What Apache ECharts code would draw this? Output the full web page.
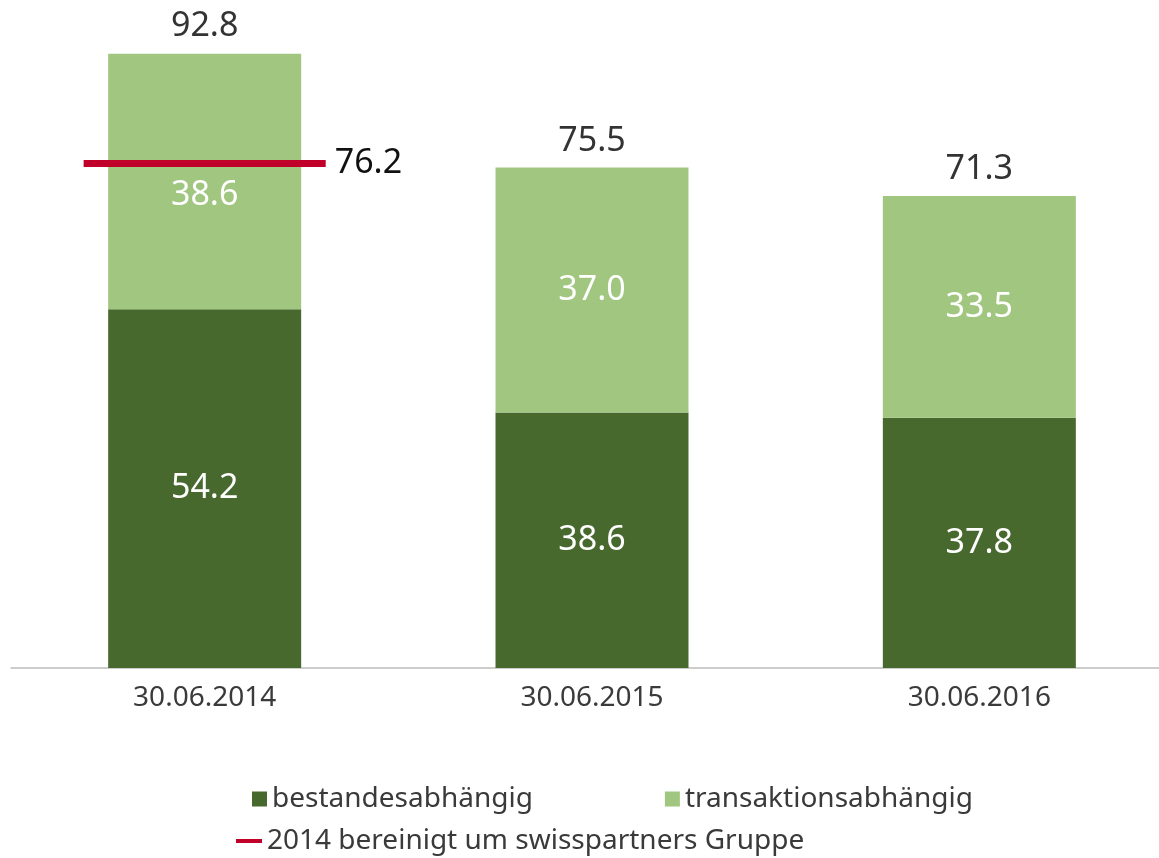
<!DOCTYPE html>
<html>
<head>
<meta charset="utf-8">
<script src="https://cdn.jsdelivr.net/npm/echarts@6/dist/echarts.min.js"></script>
<style>
  html, body { margin: 0; padding: 0; background: #fff; }
  #chart { width: 1159px; height: 858px; }
</style>
</head>
<body>
<div id="chart"></div>
<script>
// Stichtage
const categories = ['30.06.2014', '30.06.2015', '30.06.2016'];
// Segmentwerte
const bestandValues = [54.2, 38.6, 37.8];
const transaktionValues = [38.6, 37.0, 33.5];
// Summen (wie beschriftet)
const totalValues = [92.8, 75.5, 71.3];
// 2014 bereinigt um swisspartners Gruppe
const adjustedValues = [['30.06.2014', 76.2]];

const seriesNames = ['bestandesabhängig', 'transaktionsabhängig', '2014 bereinigt um swisspartners Gruppe'];
const FONT = '"Noto Sans", "Open Sans", sans-serif';

const chart = echarts.init(document.getElementById('chart'));

const option = {
  backgroundColor: '#ffffff',
  animation: false,
  textStyle: { fontFamily: FONT },
  grid: { left: 11, width: 1162, top: 6, bottom: 190, outerBoundsMode: 'none', containLabel: false },
  legend: [
    {
      data: [seriesNames[0], seriesNames[1]],
      left: 252, top: 785, padding: 0,
      icon: 'rect', itemWidth: 15, itemHeight: 15, itemGap: 132,
      textStyle: { fontSize: 28, color: '#3a3a3a', fontFamily: FONT }
    },
    {
      data: [seriesNames[2]],
      left: 236, top: 827, padding: 0,
      icon: 'rect', itemWidth: 26, itemHeight: 4,
      textStyle: { fontSize: 28, color: '#3a3a3a', fontFamily: FONT }
    }
  ],
  xAxis: {
    type: 'category',
    data: categories,
    axisLine: { lineStyle: { color: '#bdbdbd', width: 1.5 } },
    axisTick: { show: false },
    axisLabel: { fontSize: 28, color: '#3a3a3a', margin: 16, fontFamily: FONT }
  },
  yAxis: {
    type: 'value', min: 0, max: 100, show: false,
    splitLine: { show: false }
  },
  series: [
    {
      name: seriesNames[0], type: 'bar', stack: 'a', barWidth: 193,
      data: bestandValues,
      itemStyle: { color: '#48692e' },
      label: { show: true, position: 'inside', fontSize: 34, color: '#ffffff', fontFamily: FONT,
        formatter: p => p.value.toFixed(1) }
    },
    {
      name: seriesNames[1], type: 'bar', stack: 'a', barWidth: 193,
      data: transaktionValues.map((v, i) => i === 0 ? { value: v, label: { offset: [0, 14] } } : v),
      itemStyle: { color: '#a1c680' },
      label: { show: true, position: 'inside', fontSize: 34, color: '#ffffff', fontFamily: FONT,
        formatter: p => p.value.toFixed(1) }
    },
    {
      name: 'Summe', type: 'bar', barWidth: 193, barGap: '-100%', silent: true,
      data: totalValues,
      itemStyle: { color: 'rgba(0,0,0,0)' },
      label: { show: true, position: 'top', distance: 10, fontSize: 34, color: '#333333', fontFamily: FONT,
        formatter: p => p.value.toFixed(1) },
      z: 1
    },
    {
      name: seriesNames[2], type: 'custom', z: 5,
      itemStyle: { color: '#c0002a' },
      data: adjustedValues,
      renderItem: (params, api) => {
        const c = api.coord([api.value(0), api.value(1)]);
        const half = api.size([1, 0])[0] * 0.3125;
        return {
          type: 'group',
          children: [
            { type: 'line',
              shape: { x1: c[0] - half, y1: c[1], x2: c[0] + half, y2: c[1] },
              style: { stroke: '#c0002a', lineWidth: 7 } },
            { type: 'text',
              style: { text: api.value(1).toFixed(1), x: c[0] + half + 9, y: c[1],
                verticalAlign: 'middle', fontSize: 34, fill: '#111111', fontFamily: FONT } }
          ]
        };
      }
    }
  ]
};

chart.setOption(option);
window.addEventListener('resize', () => chart.resize());
</script>
</body>
</html>
